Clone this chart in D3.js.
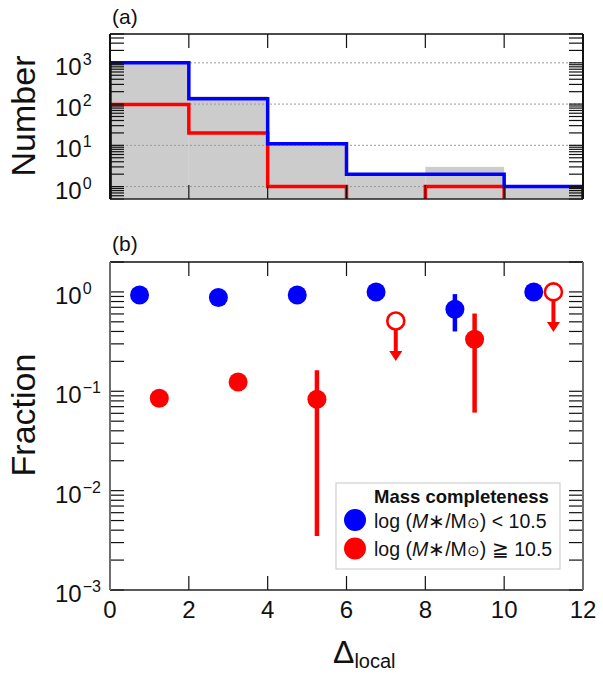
<!DOCTYPE html>
<html>
<head>
<meta charset="utf-8">
<script src="https://cdn.jsdelivr.net/npm/d3@7"></script>
<style>
  body { margin: 0; background: #fff; }
  svg { display: block; font-family: 'Liberation Sans', Arial, Helvetica, sans-serif; }
</style>
</head>
<body>
<svg id="chart" width="603" height="674"></svg>
<script>
// histogram bins (Delta_local)
const binEdges = [0, 2, 4, 6, 8, 10, 12];
const countLow = [1000, 134, 11, 2, 2, 1];   // blue, log M < 10.5
const countHigh = [98, 20, 1, 0, 1, 0];      // red, log M >= 10.5
const countAll = [1098, 154, 12, 2, 3, 1];   // grey, all
const xTickValues = [0, 2, 4, 6, 8, 10, 12];
const topDecades = [1, 10, 100, 1000];
const botDecades = [0.001, 0.01, 0.1, 1];

// fractions
const lowX = [0.75, 2.75, 4.75, 6.75, 8.75, 10.75];
const lowF = [0.93, 0.88, 0.93, 1.0, 0.67, 1.0];
const lowErrLo = [null, null, null, null, 0.40, null];
const lowErrHi = [null, null, null, null, 0.95, null];

const highX = [1.25, 3.25, 5.25, 7.25, 9.25, 11.25];
const highF = [0.085, 0.124, 0.083, 0.51, 0.334, 1.0];
const highErrLo = [null, null, 0.0035, null, 0.061, null];
const highErrHi = [null, null, 0.163, null, 0.606, null];
const highUpper = [false, false, false, true, false, true];

const legendLabels = ['<', '\u2267'];

const BLUE = '#0000ff', RED = '#ff0000';
const left = 110, right = 583;

const svg = d3.select('#chart');

const x = d3.scaleLinear().domain([0, 12]).range([left, right]);
const yTop = d3.scaleLog().domain([0.5, 5000]).range([199, 34]);
const yBot = d3.scaleLog().domain([0.001, 2]).range([590, 262]);

svg.append('defs').append('clipPath').attr('id', 'clipA')
  .append('rect').attr('x', left).attr('y', 34).attr('width', right - left).attr('height', 165);

function minorTicks(scale) {
  const [lo, hi] = scale.domain();
  const out = [];
  for (let e = Math.floor(Math.log10(lo)); e <= Math.ceil(Math.log10(hi)); e++) {
    for (let k = 1; k < 10; k++) {
      const v = k * Math.pow(10, e);
      if (v >= lo * 0.999 && v <= hi * 1.001) out.push(v);
    }
  }
  return out;
}

function drawFrame(g, y, sideColor) {
  const [y0, y1] = y.range();
  // y ticks, both sides, pointing inward
  const yt = minorTicks(y);
  g.append('g').selectAll('line').data(yt).enter().append('line')
    .attr('x1', left).attr('x2', left + 14)
    .attr('y1', d => y(d)).attr('y2', d => y(d))
    .attr('stroke', '#111').attr('stroke-width', 1.2);
  g.append('g').selectAll('line').data(yt).enter().append('line')
    .attr('x1', right).attr('x2', right - 14)
    .attr('y1', d => y(d)).attr('y2', d => y(d))
    .attr('stroke', '#111').attr('stroke-width', 1.2);
  // x ticks top and bottom
  const xt = xTickValues.slice(1, -1);
  g.append('g').selectAll('line').data(xt).enter().append('line')
    .attr('x1', d => x(d)).attr('x2', d => x(d))
    .attr('y1', y1).attr('y2', y1 + 14)
    .attr('stroke', '#111').attr('stroke-width', 1.2);
  g.append('g').selectAll('line').data(xt).enter().append('line')
    .attr('x1', d => x(d)).attr('x2', d => x(d))
    .attr('y1', y0).attr('y2', y0 - 14)
    .attr('stroke', '#111').attr('stroke-width', 1.2);
  // box
  g.append('line').attr('x1', left).attr('x2', right).attr('y1', y1).attr('y2', y1)
    .attr('stroke', '#111').attr('stroke-width', 1.6);
  g.append('line').attr('x1', left).attr('x2', right).attr('y1', y0).attr('y2', y0)
    .attr('stroke', '#222').attr('stroke-width', 1.6);
  g.append('line').attr('x1', left).attr('x2', left).attr('y1', y1).attr('y2', y0)
    .attr('stroke', sideColor).attr('stroke-width', 2);
  g.append('line').attr('x1', right).attr('x2', right).attr('y1', y1).attr('y2', y0)
    .attr('stroke', sideColor).attr('stroke-width', 2);
}

function decadeLabels(g, y, decades) {
  decades.forEach(v => {
    const t = g.append('text')
      .attr('x', 55).attr('y', y(v) + 12)
      .attr('font-size', 24).attr('fill', '#111');
    t.append('tspan').text('10');
    const e = Math.round(Math.log10(v));
    t.append('tspan').attr('dy', -10).attr('dx', 1).attr('font-size', 16)
      .text(e < 0 ? '\u2212' + (-e) : String(e));
  });
}

// ---------- panel (a) ----------
const gA = svg.append('g');
// empty bins drop below the axis (clipped away)
const yv = v => v > 0 ? yTop(v) : yTop.range()[0] + 10;

gA.append('g').selectAll('rect').data(countAll).enter().append('rect')
  .attr('x', (d, i) => x(binEdges[i]))
  .attr('width', (d, i) => x(binEdges[i + 1]) - x(binEdges[i]))
  .attr('y', d => yv(d))
  .attr('height', d => Math.max(0, yTop.range()[0] - yv(d)))
  .attr('fill', '#cccccc');

gA.append('g').selectAll('line').data(topDecades).enter().append('line')
  .attr('x1', left).attr('x2', right)
  .attr('y1', d => yTop(d)).attr('y2', d => yTop(d))
  .attr('stroke', '#9a9a9a').attr('stroke-width', 1)
  .attr('stroke-dasharray', '2,2');

function stepPoints(counts) {
  const base = yTop.range()[0] + 10;
  const pts = [[x(binEdges[0]), base]];
  counts.forEach((c, i) => {
    pts.push([x(binEdges[i]), yv(c)]);
    pts.push([x(binEdges[i + 1]), yv(c)]);
  });
  pts.push([x(binEdges[binEdges.length - 1]), base]);
  return pts;
}
const line = d3.line();
const steps = gA.append('g').attr('clip-path', 'url(#clipA)');
steps.append('path').attr('d', line(stepPoints(countHigh)))
  .attr('fill', 'none').attr('stroke', RED).attr('stroke-width', 3.5);
steps.append('path').attr('d', line(stepPoints(countLow)))
  .attr('fill', 'none').attr('stroke', BLUE).attr('stroke-width', 3.5);

drawFrame(gA, yTop, '#111');
decadeLabels(gA, yTop, topDecades);

gA.append('text').attr('x', 112).attr('y', 24).attr('font-size', 21).attr('fill', '#111').text('(a)');
gA.append('text')
  .attr('transform', 'translate(35,116) rotate(-90)')
  .attr('text-anchor', 'middle').attr('font-size', 34).attr('fill', '#111')
  .text('Number');

// ---------- panel (b) ----------
const gB = svg.append('g');
drawFrame(gB, yBot, '#6e6e6e');
decadeLabels(gB, yBot, botDecades);

gB.append('text').attr('x', 112).attr('y', 251).attr('font-size', 21).attr('fill', '#111').text('(b)');
gB.append('text')
  .attr('transform', 'translate(35,415) rotate(-90)')
  .attr('text-anchor', 'middle').attr('font-size', 34).attr('fill', '#111')
  .text('Fraction');

const lowPts = lowX.map((v, i) => ({x: v, f: lowF[i], lo: lowErrLo[i], hi: lowErrHi[i]}));
const highPts = highX.map((v, i) => ({x: v, f: highF[i], lo: highErrLo[i], hi: highErrHi[i], up: highUpper[i]}));

function errorBars(data, color) {
  gB.append('g').selectAll('line').data(data.filter(d => d.lo !== null)).enter().append('line')
    .attr('x1', d => x(d.x)).attr('x2', d => x(d.x))
    .attr('y1', d => yBot(d.hi)).attr('y2', d => yBot(d.lo))
    .attr('stroke', color).attr('stroke-width', 4.5);
}
errorBars(lowPts, BLUE);
errorBars(highPts, RED);

gB.append('g').selectAll('circle').data(lowPts).enter().append('circle')
  .attr('cx', d => x(d.x)).attr('cy', d => yBot(d.f)).attr('r', 9.5)
  .attr('fill', BLUE);

const solidHigh = highPts.filter(d => !d.up);
const limitHigh = highPts.filter(d => d.up);
gB.append('g').selectAll('circle').data(solidHigh).enter().append('circle')
  .attr('cx', d => x(d.x)).attr('cy', d => yBot(d.f)).attr('r', 9.5)
  .attr('fill', RED);

// upper limits: open circle with down arrow
const lim = gB.append('g').selectAll('g').data(limitHigh).enter().append('g')
  .attr('transform', d => `translate(${x(d.x)},${yBot(d.f)})`);
lim.append('line').attr('x1', 0).attr('x2', 0).attr('y1', 9).attr('y2', 31)
  .attr('stroke', RED).attr('stroke-width', 4);
lim.append('path').attr('d', 'M-6.5,30 L6.5,30 L0,40 Z').attr('fill', RED);
lim.append('circle').attr('r', 8.5).attr('fill', '#fff')
  .attr('stroke', RED).attr('stroke-width', 2.6);

// x tick labels
svg.append('g').selectAll('text').data(xTickValues).enter().append('text')
  .attr('x', d => x(d)).attr('y', 618)
  .attr('text-anchor', 'middle').attr('font-size', 24).attr('fill', '#111')
  .text(d => d);

const xl = svg.append('text').attr('x', 333).attr('y', 663).attr('fill', '#111');
xl.append('tspan').attr('font-size', 32).text('\u0394');
xl.append('tspan').attr('font-size', 20).attr('dy', 5).text('local');

// legend
const lg = svg.append('g');
lg.append('rect').attr('x', 336).attr('y', 483).attr('width', 224).attr('height', 86)
  .attr('fill', '#fff').attr('stroke', '#d0d0d0').attr('stroke-width', 1.2);
lg.append('text').attr('x', 374).attr('y', 503).attr('font-size', 18.5)
  .attr('font-weight', 'bold').attr('fill', '#111').text('Mass completeness');
[BLUE, RED].forEach((c, i) => {
  const cy = 520 + i * 28.5;
  lg.append('circle').attr('cx', 355).attr('cy', cy).attr('r', 11).attr('fill', c);
  const t = lg.append('text').attr('x', 374).attr('y', cy + 7.5)
    .attr('font-size', 19.5).attr('fill', '#111');
  t.append('tspan').text('log (');
  t.append('tspan').attr('font-style', 'italic').text('M');
  t.append('tspan').text('\u2217/M');
  t.append('tspan').attr('font-size', 15).text('\u2299');
  t.append('tspan').text(') ' + legendLabels[i] + ' 10.5');
});
</script>
</body>
</html>
